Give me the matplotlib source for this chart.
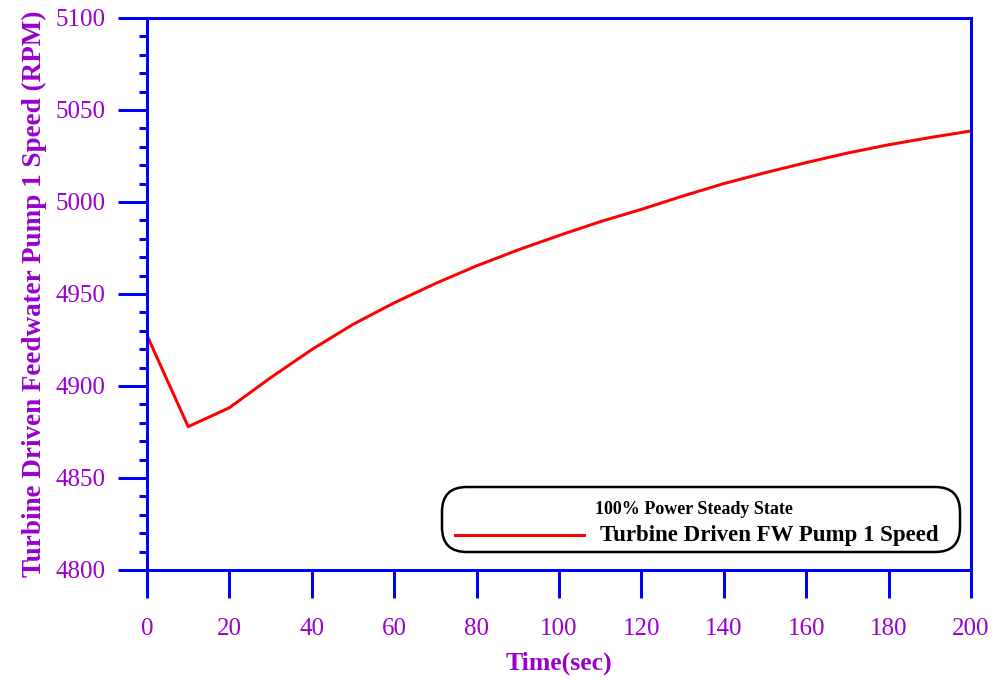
import matplotlib
matplotlib.use("Agg")
import matplotlib.pyplot as plt
from matplotlib.patches import FancyBboxPatch
from matplotlib.ticker import MultipleLocator

time_sec = [0, 10, 20, 30, 40, 50, 60, 70, 80, 90, 100, 110, 120, 130, 140,
            150, 160, 170, 180, 190, 200]
speed_rpm = [4927.5, 4877.9, 4888.2, 4904.5, 4919.8, 4933.5, 4945.2, 4955.7,
             4965.3, 4973.9, 4981.8, 4989.3, 4996.0, 5003.2, 5010.0, 5015.9,
             5021.4, 5026.6, 5031.1, 5035.0, 5038.6]
x_ticks = [0, 20, 40, 60, 80, 100, 120, 140, 160, 180, 200]
y_ticks = [4800, 4850, 4900, 4950, 5000, 5050, 5100]

purple = "#9900CC"
blue = "#0000FF"
plt.rcParams['font.family'] = ['Liberation Serif', 'DejaVu Serif']

PX = 72 / 100  # points per pixel

fig = plt.figure(figsize=(9.94, 6.8), dpi=100)
ax = fig.add_axes([147/994, 1 - 570/680, 824/994, 552/680])
ax.plot(time_sec, speed_rpm, color="#FF0000", lw=3 * PX)
ax.set_xlim(0, 200)
ax.set_ylim(4800, 5100)
ax.set_xticks(x_ticks)
ax.set_yticks(y_ticks)
ax.yaxis.set_minor_locator(MultipleLocator(10))
for s in ax.spines.values():
    s.set_color(blue)
    s.set_linewidth(3 * PX)
ax.tick_params(axis='both', which='major', direction='out', color=blue,
               width=3 * PX, labelsize=18, labelcolor=purple)
ax.tick_params(axis='x', which='major', length=28 * PX, pad=14.5)
ax.tick_params(axis='y', which='major', length=29 * PX, pad=9)
ax.tick_params(axis='y', which='minor', length=8 * PX, width=3 * PX, color=blue)
ax.tick_params(axis='x', which='minor', length=0)
ax.set_xlabel("Time(sec)", color=purple, fontsize=18.5, fontweight='bold', labelpad=8)
ax.set_ylabel("Turbine Driven Feedwater Pump 1 Speed (RPM)", color=purple,
              fontsize=19.5, fontweight='bold', labelpad=6)

# legend box
def fx(px):
    return (px - 147) / 824
def fy(py):
    return (570 - py) / 552
box = FancyBboxPatch((fx(442), fy(552)), fx(960) - fx(442), fy(487) - fy(552),
                     boxstyle="round,pad=0,rounding_size=0.03",
                     transform=ax.transAxes, facecolor='white', edgecolor='black',
                     lw=2.5 * PX, mutation_aspect=824/552, zorder=5)
ax.add_patch(box)
ax.text(fx(694), fy(509), "100% Power Steady State", transform=ax.transAxes,
        ha='center', va='center', fontsize=13, fontweight='bold', zorder=6)
ax.plot([fx(455), fx(584)], [fy(535), fy(535)], transform=ax.transAxes,
        color="#FF0000", lw=3 * PX, zorder=6, clip_on=False)
ax.text(fx(600), fy(535), "Turbine Driven FW Pump 1 Speed", transform=ax.transAxes,
        ha='left', va='center', fontsize=16.5, fontweight='bold', zorder=6)

fig.savefig("out.png", dpi=100)
